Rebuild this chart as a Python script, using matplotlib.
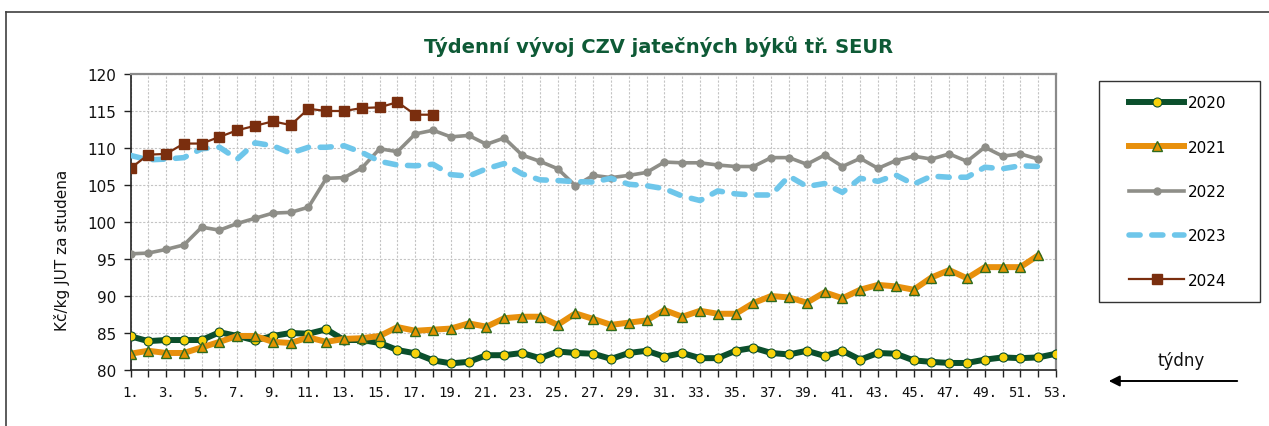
import numpy as np
import matplotlib
matplotlib.use("Agg")
import matplotlib.pyplot as plt
from matplotlib.patches import Rectangle, FancyArrowPatch
from matplotlib.lines import Line2D

# ---------------- data ----------------
title = "Týdenní vývoj CZV jatečných býků tř. SEUR"
ylabel = "Kč/kg JUT za studena"
xlabel_note = "týdny"

weeks_all = list(range(1, 54))
xtick_labels = [f"{w}." for w in weeks_all]

y2020 = [84.55, 83.9, 84.05, 84.05, 84.05, 85.1, 84.6, 84.0, 84.6, 85.0,
         84.9, 85.5, 84.05, 84.05, 83.65, 82.7, 82.25, 81.3, 80.9, 81.1,
         82.0, 82.0, 82.3, 81.6, 82.5, 82.3, 82.2, 81.5, 82.3, 82.6,
         81.8, 82.3, 81.6, 81.6, 82.6, 83.0, 82.3, 82.1, 82.6, 81.9,
         82.6, 81.4, 82.3, 82.2, 81.3, 81.1, 80.95, 80.95, 81.4, 81.7,
         81.6, 81.7, 82.2]
y2021 = [82.2, 82.6, 82.3, 82.3, 83.05, 83.8, 84.6, 84.6, 83.8, 83.65,
         84.4, 83.8, 84.2, 84.3, 84.6, 85.8, 85.3, 85.45, 85.6, 86.3,
         85.85, 87.0, 87.2, 87.2, 86.1, 87.65, 86.9, 86.1, 86.4, 86.7,
         88.1, 87.2, 88.0, 87.6, 87.6, 89.05, 90.0, 89.8, 89.1, 90.5,
         89.7, 90.85, 91.5, 91.3, 90.85, 92.5, 93.5, 92.4, 93.9, 93.9,
         93.9, 95.5]
y2022 = [95.7, 95.8, 96.3, 96.9, 99.3, 98.9, 99.8, 100.5, 101.2, 101.3,
         102.0, 105.9, 106.0, 107.3, 109.9, 109.5, 111.9, 112.4, 111.5, 111.7,
         110.5, 111.35, 109.05, 108.2, 107.2, 104.9, 106.3, 106.0, 106.3, 106.7,
         108.1, 108.0, 108.0, 107.7, 107.5, 107.5, 108.7, 108.7, 107.8, 109.05,
         107.5, 108.6, 107.25, 108.3, 108.9, 108.5, 109.2, 108.2, 110.1, 108.9,
         109.2, 108.5]
y2023 = [109.0, 108.4, 108.5, 108.7, 109.9, 110.1, 108.5, 110.7, 110.3, 109.3,
         110.1, 110.1, 110.3, 109.4, 108.2, 107.7, 107.6, 107.8, 106.4, 106.2,
         107.2, 107.9, 106.5, 105.7, 105.6, 105.45, 105.4, 105.9, 105.1, 104.9,
         104.5, 103.5, 102.9, 104.2, 103.8, 103.65, 103.65, 106.2, 104.8, 105.2,
         104.0, 105.9, 105.5, 106.35, 105.1, 106.2, 106.05, 106.05, 107.4, 107.2,
         107.6, 107.5]
y2024 = [107.25, 109.1, 109.2, 110.6, 110.6, 111.5, 112.4, 113.0, 113.6, 113.1,
         115.3, 115.0, 115.0, 115.4, 115.5, 116.2, 114.5, 114.5]

yticks = [80, 85, 90, 95, 100, 105, 110, 115, 120]

# ---------------- figure ----------------
W, H = 1269, 427
fig = plt.figure(figsize=(W / 100, H / 100), dpi=100)
fig.patch.set_facecolor("white")

def fx(px):
    return px / W

def fy(py):
    return 1 - py / H

ax = fig.add_axes([fx(130.5), fy(371), fx(1056) - fx(130.5), fy(75) - fy(371)])

green = "#0B4F2C"
orange = "#E8900C"
gray = "#8E8E88"
blue = "#6EC6EA"
brown = "#7A2E0E"

def xs(vals):
    return weeks_all[:len(vals)]

l20, = ax.plot(xs(y2020), y2020, color=green, lw=4.3, solid_joinstyle="round",
               marker="o", ms=6.5, mfc="#F7D20A", mec=green, mew=0.8, zorder=3,
               label="2020")
l21, = ax.plot(xs(y2021), y2021, color=orange, lw=4.3, solid_joinstyle="round",
               marker="^", ms=7.5, mfc="#E39300", mec="#2E6B1F", mew=1.0, zorder=4,
               label="2021")
l22, = ax.plot(xs(y2022), y2022, color=gray, lw=2.6, solid_joinstyle="round",
               marker="o", ms=5, mfc=gray, mec=gray, zorder=5, label="2022")
l23, = ax.plot(xs(y2023), y2023, color=blue, lw=4.0, dashes=(2.0, 2.1),
               dash_capstyle="round", zorder=6, label="2023")
l24, = ax.plot(xs(y2024), y2024, color=brown, lw=1.6,
               marker="s", ms=7.8, mfc=brown, mec=brown, zorder=7, label="2024")

ax.set_xlim(1, 53)
ax.set_ylim(80, 120)
ax.set_xticks(weeks_all)
ax.set_xticklabels([lab if (w % 2 == 1) else "" for w, lab in zip(weeks_all, xtick_labels)],
                   fontfamily="DejaVu Sans Mono", fontsize=10, color="#111111")
ax.set_yticks(yticks)
ax.set_yticklabels([str(v) for v in yticks], fontsize=11, color="#111111")
ax.tick_params(axis="x", direction="out", length=5, width=1, pad=6, color="#222222")
ax.tick_params(axis="y", direction="out", length=5, width=1, pad=5, color="#222222")

ax.grid(True, which="major", color="#C4C4C4", linestyle=(0, (2, 1.5)), linewidth=0.8)
ax.set_axisbelow(True)

for s in ["left", "bottom"]:
    ax.spines[s].set_color("#222222")
    ax.spines[s].set_linewidth(1.2)
for s in ["top", "right"]:
    ax.spines[s].set_color("#8A8A8A")
    ax.spines[s].set_linewidth(1.6)

fig.text(fx(62), fy(250), ylabel, rotation=90, ha="center", va="center",
         fontsize=11, color="#111111")

fig.text(fx(659), fy(47), title, ha="center", va="center", fontsize=14,
         fontweight="bold", color="#0E5A36")

# outer chart border
fig.add_artist(Line2D([fx(6), fx(6)], [fy(13), 0], transform=fig.transFigure,
                      color="#404040", lw=1.2))
fig.add_artist(Line2D([fx(6), 1], [fy(13), fy(13)], transform=fig.transFigure,
                      color="#404040", lw=1.2))

# legend box
fig.add_artist(Rectangle((fx(1099), fy(303)), fx(1260) - fx(1099), fy(82) - fy(303),
                         transform=fig.transFigure, fill=False, edgecolor="#333333", lw=1.0))
leg = ax.legend(handles=[l20, l21, l22, l23, l24], loc="center",
                bbox_to_anchor=(fx(1178), fy(192.5)), bbox_transform=fig.transFigure,
                frameon=False, fontsize=11, handlelength=3.6, handletextpad=0.25,
                labelspacing=1.92, borderpad=0, numpoints=1)

# x-axis note and arrow
fig.text(fx(1181), fy(361), xlabel_note, ha="center", va="center", fontsize=12,
         color="#111111")
fig.add_artist(FancyArrowPatch((fx(1240), fy(382)), (fx(1106), fy(382)),
                               transform=fig.transFigure, arrowstyle="-|>",
                               mutation_scale=16, color="black", lw=1.4))

fig.savefig("out.png", dpi=100)
